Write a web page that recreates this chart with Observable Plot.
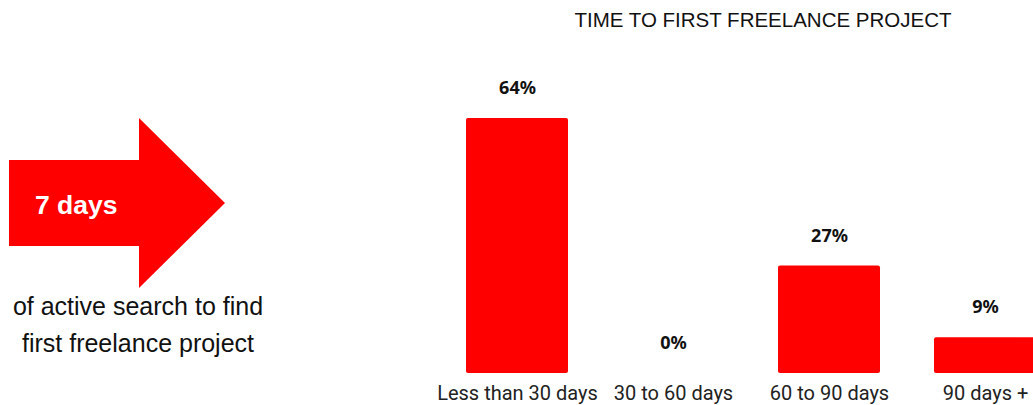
<!DOCTYPE html>
<html>
<head>
<meta charset="utf-8">
<script src="https://cdn.jsdelivr.net/npm/d3@7"></script>
<script src="https://cdn.jsdelivr.net/npm/@observablehq/plot@0.6"></script>
<style>
  html, body { margin: 0; padding: 0; background: #fff; overflow: hidden; }
  #wrap { position: relative; width: 1033px; height: 405px; }
  #chart { position: absolute; left: 0; top: 0; }
  .arrow { position: absolute; left: 9px; top: 118px; width: 216px; height: 170px; background: #ff0000;
    clip-path: polygon(0 42px, 130px 42px, 130px 0, 216px 85px, 130px 170px, 130px 128px, 0 128px); }
  .big { position: absolute; left: 35px; top: 189px; color: #fff; font: bold 26.5px "Liberation Sans", Arial, sans-serif; line-height: 32px; }
  .note { position: absolute; left: 0; width: 276px; text-align: center; color: #111; font: 25px "Liberation Sans", Arial, sans-serif; line-height: 30px; }
  .title { position: absolute; left: 513px; width: 500px; top: 8px; text-align: center; color: #111; font: 20.5px "Liberation Sans", Arial, sans-serif; line-height: 24px; }
</style>
</head>
<body>
<div id="wrap">
  <div id="chart"></div>
  <div class="arrow"></div>
  <div class="big">7 days</div>
  <div class="note" style="top:291px">of active search to find</div>
  <div class="note" style="top:328px">first freelance project</div>
  <div class="title">TIME TO FIRST FREELANCE PROJECT</div>
</div>
<script>
const categories = ["Less than 30 days", "30 to 60 days", "60 to 90 days", "90 days +"];
const values = [64, 0, 27, 9];
const data = categories.map((c, i) => ({category: c, value: values[i]}));

const chart = Plot.plot({
  width: 1033,
  height: 405,
  marginTop: 118,
  marginBottom: 32,
  marginLeft: 410,
  marginRight: 0,
  style: {fontFamily: "Roboto, sans-serif", background: "transparent", color: "#222"},
  x: {domain: categories, range: [410, 1092], padding: 0.344, label: null},
  y: {domain: [0, 64], axis: null},
  marks: [
    Plot.barY(data, {x: "category", y: "value", fill: "#ff0000", rx: 2}),
    Plot.text(data, {x: "category", y: "value", text: d => d.value + "%", dy: -30,
      fontSize: 18, fontWeight: "bold", fontFamily: "Noto Sans, sans-serif", fill: "#111",
      stroke: "white", strokeWidth: 3}),
    Plot.axisX({tickSize: 0, tickPadding: 12, fontSize: 20, label: null, fill: "#222"})
  ]
});
document.getElementById("chart").appendChild(chart);
</script>
</body>
</html>
